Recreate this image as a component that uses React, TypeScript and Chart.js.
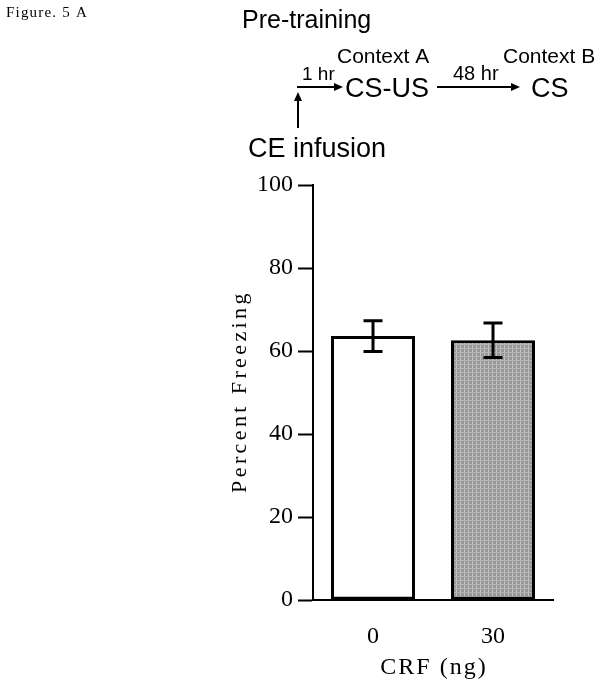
import React, { useEffect, useRef } from "react";
import { Chart, registerables } from "chart.js";

Chart.register(...registerables);

const categories = ["0", "30"];
const meanFreezing = [63.6, 62.6];
const semFreezing = [3.7, 4.15];
const yTicks = [0, 20, 40, 60, 80, 100];

const W = 602;
const H = 684;

function makePattern(): CanvasPattern | string {
  const c = document.createElement("canvas");
  c.width = 4;
  c.height = 4;
  const g = c.getContext("2d");
  if (!g) return "#9a9a9a";
  g.fillStyle = "#979797";
  g.fillRect(0, 0, 4, 4);
  g.fillStyle = "#c2c2c2";
  g.fillRect(0, 0, 1, 4);
  g.fillStyle = "#b5b5b5";
  g.fillRect(0, 0, 4, 1);
  const p = g.createPattern(c, "repeat");
  return p || "#9a9a9a";
}

function txt(
  ctx: CanvasRenderingContext2D,
  s: string,
  x: number,
  y: number,
  font: string,
  align: CanvasTextAlign = "left",
  spacing = 0
) {
  ctx.save();
  ctx.font = font;
  ctx.fillStyle = "#000";
  ctx.textAlign = align;
  ctx.textBaseline = "alphabetic";
  (ctx as any).letterSpacing = spacing + "px";
  ctx.fillText(s, x, y);
  ctx.restore();
}

function arrow(ctx: CanvasRenderingContext2D, x1: number, y1: number, x2: number, y2: number) {
  ctx.save();
  ctx.strokeStyle = "#000";
  ctx.fillStyle = "#000";
  ctx.lineWidth = 2;
  const a = Math.atan2(y2 - y1, x2 - x1);
  const hl = 9;
  const hw = 4;
  const bx = x2 - hl * Math.cos(a);
  const by = y2 - hl * Math.sin(a);
  ctx.beginPath();
  ctx.moveTo(x1, y1);
  ctx.lineTo(bx, by);
  ctx.stroke();
  ctx.beginPath();
  ctx.moveTo(x2, y2);
  ctx.lineTo(bx + hw * Math.sin(a), by - hw * Math.cos(a));
  ctx.lineTo(bx - hw * Math.sin(a), by + hw * Math.cos(a));
  ctx.closePath();
  ctx.fill();
  ctx.restore();
}

const errorBarPlugin = {
  id: "errorBars",
  afterDatasetsDraw(chart: any) {
    const ctx = chart.ctx as CanvasRenderingContext2D;
    const meta = chart.getDatasetMeta(0);
    const ys = chart.scales.y;
    ctx.save();
    ctx.strokeStyle = "#000";
    ctx.lineWidth = 3;
    meta.data.forEach((bar: any, i: number) => {
      const x = bar.x;
      const top = ys.getPixelForValue(meanFreezing[i] + semFreezing[i]);
      const bot = ys.getPixelForValue(meanFreezing[i] - semFreezing[i]);
      const hw = 9.5;
      ctx.beginPath();
      ctx.moveTo(x, top);
      ctx.lineTo(x, bot);
      ctx.moveTo(x - hw, top);
      ctx.lineTo(x + hw, top);
      ctx.moveTo(x - hw, bot);
      ctx.lineTo(x + hw, bot);
      ctx.stroke();
    });
    ctx.restore();
  },
};

const annotationPlugin = {
  id: "annotations",
  afterDraw(chart: any) {
    const ctx = chart.ctx as CanvasRenderingContext2D;
    const sans = '"Liberation Sans", Arial, sans-serif';
    const serif = '"Liberation Serif", "DejaVu Serif", serif';
    txt(ctx, "Figure. 5 A", 6, 17, `15px ${serif}`, "left", 1.2);
    txt(ctx, "Pre-training", 242, 28, `25px ${sans}`);
    txt(ctx, "Context A", 337, 63, `21px ${sans}`);
    txt(ctx, "Context B", 503, 63, `21px ${sans}`);
    txt(ctx, "1 hr", 302, 80, `19px ${sans}`);
    txt(ctx, "48 hr", 453, 80, `20px ${sans}`);
    txt(ctx, "CS-US", 345, 97, `27px ${sans}`);
    txt(ctx, "CS", 531, 97, `27px ${sans}`);
    txt(ctx, "CE infusion", 248, 157, `27px ${sans}`);
    arrow(ctx, 297, 87, 343, 87);
    arrow(ctx, 437, 87, 520, 87);
    arrow(ctx, 298, 128, 298, 92);

    const ca = chart.chartArea;
    // y-axis title
    ctx.save();
    ctx.translate(246, (ca.top + ca.bottom) / 2 + 1);
    ctx.rotate(-Math.PI / 2);
    ctx.font = `22px ${serif}`;
    (ctx as any).letterSpacing = "3.4px";
    ctx.fillStyle = "#000";
    ctx.textAlign = "center";
    ctx.textBaseline = "alphabetic";
    ctx.fillText("Percent Freezing", 2, 0);
    ctx.restore();
    // x-axis title
    txt(ctx, "CRF (ng)", (ca.left + ca.right) / 2 + 1, 674, `24px ${serif}`, "center", 2);
  },
};

export default function App() {
  const ref = useRef<HTMLCanvasElement | null>(null);
  useEffect(() => {
    if (!ref.current) return;
    const pattern = makePattern();
    const chart = new Chart(ref.current, {
      type: "bar",
      data: {
        labels: categories,
        datasets: [
          {
            data: meanFreezing,
            backgroundColor: ["#ffffff", pattern as any],
            borderColor: "#000",
            borderWidth: 3,
            borderSkipped: false,
            barPercentage: 0.7,
            categoryPercentage: 1,
          },
        ],
      },
      options: {
        responsive: false,
        animation: false,
        devicePixelRatio: 1,
        layout: { padding: { left: 0, top: 185, right: 49, bottom: 0 } },
        plugins: {
          legend: { display: false },
          tooltip: { enabled: false },
        },
        scales: {
          x: {
            grid: { display: false },
            border: { display: true, color: "#000", width: 2 },
            ticks: {
              color: "#000",
              padding: 14,
              font: { family: '"Liberation Serif", serif', size: 24 },
            },
            afterFit(scale: any) {
              scale.height = 84;
            },
          },
          y: {
            min: 0,
            max: 100,
            afterBuildTicks(scale: any) {
              scale.ticks = yTicks.map((v) => ({ value: v }));
            },
            grid: {
              drawOnChartArea: false,
              drawTicks: true,
              tickLength: 15,
              tickWidth: 2,
              tickColor: "#000",
            },
            border: { display: true, color: "#000", width: 2 },
            ticks: {
              color: "#000",
              padding: 5,
              font: { family: '"Liberation Serif", serif', size: 24 },
            },
            afterFit(scale: any) {
              scale.width = 313;
            },
          },
        },
      },
      plugins: [errorBarPlugin, annotationPlugin],
    });
    return () => chart.destroy();
  }, []);
  return (
    <div style={{ position: "fixed", left: 0, top: 0, width: W, height: H, background: "#fff" }}>
      <canvas ref={ref} width={W} height={H} style={{ width: W, height: H, display: "block" }} />
    </div>
  );
}
